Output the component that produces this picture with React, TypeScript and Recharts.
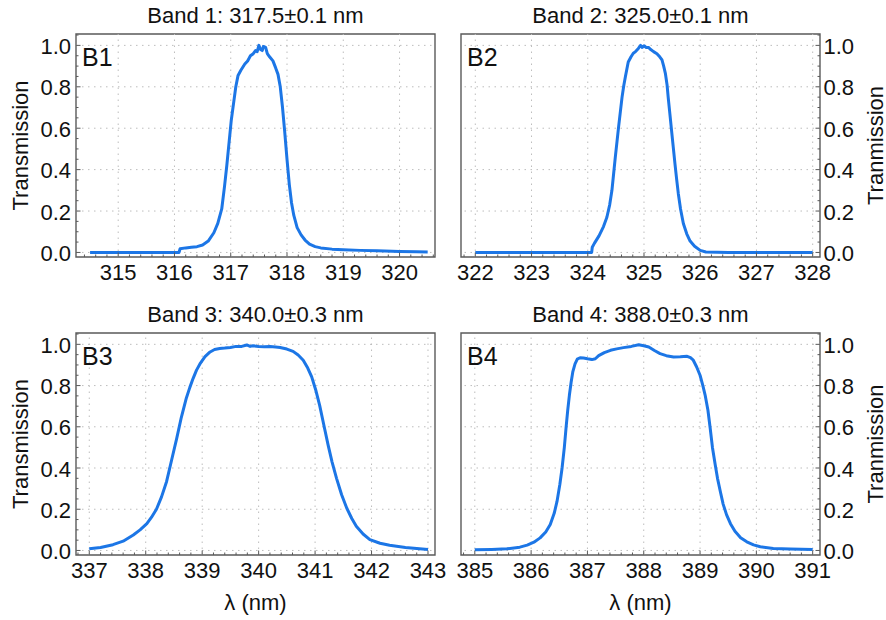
import React from 'react';
import { LineChart, Line, XAxis, YAxis, ReferenceLine, ReferenceArea } from 'recharts';

const FONT = '"Liberation Sans", Arial, Helvetica, sans-serif';
const LINE_COLOR = '#1c76e6';
const FRAME = '#5a5a5a';
const GRID = '#bdbdbd';
const TEXT = '#111111';

// ---------- data ----------
const band1Wl = [314.5, 315.0, 315.5, 316.0, 316.08, 316.1, 316.2, 316.3, 316.4, 316.5, 316.6, 316.7, 316.77, 316.84, 316.89, 316.93, 316.97, 317.01, 317.05, 317.09, 317.13, 317.18, 317.25, 317.3, 317.35, 317.4, 317.44, 317.47, 317.5, 317.53, 317.56, 317.58, 317.62, 317.65, 317.69, 317.75, 317.8, 317.84, 317.88, 317.92, 317.96, 318.0, 318.04, 318.08, 318.12, 318.18, 318.25, 318.32, 318.4, 318.5, 318.6, 318.8, 319.0, 319.3, 319.6, 320.0, 320.3, 320.5];
const band1T = [0, 0, 0, 0, 0, 0.018, 0.022, 0.025, 0.028, 0.036, 0.055, 0.095, 0.14, 0.21, 0.32, 0.42, 0.53, 0.64, 0.72, 0.8, 0.855, 0.88, 0.91, 0.925, 0.95, 0.96, 0.975, 0.97, 1.0, 0.98, 0.975, 0.995, 0.99, 0.96, 0.945, 0.925, 0.89, 0.86, 0.8, 0.7, 0.58, 0.45, 0.33, 0.24, 0.18, 0.12, 0.085, 0.06, 0.04, 0.028, 0.022, 0.016, 0.013, 0.01, 0.008, 0.005, 0.003, 0.002];

const band2Wl = [322, 323, 324, 324.07, 324.08, 324.12, 324.2, 324.28, 324.34, 324.39, 324.43, 324.46, 324.49, 324.52, 324.55, 324.58, 324.61, 324.64, 324.67, 324.72, 324.77, 324.81, 324.85, 324.9, 324.94, 324.97, 325.0, 325.04, 325.08, 325.12, 325.17, 325.23, 325.28, 325.32, 325.35, 325.38, 325.41, 325.43, 325.46, 325.49, 325.52, 325.55, 325.58, 325.61, 325.65, 325.7, 325.76, 325.82, 325.9, 326.0, 326.1, 326.5, 327, 328];
const band2T = [0, 0, 0, 0, 0.025, 0.045, 0.08, 0.125, 0.17, 0.23, 0.3, 0.38, 0.46, 0.535, 0.61, 0.68, 0.75, 0.805, 0.85, 0.92, 0.945, 0.962, 0.97, 0.985, 1.0, 0.99, 0.998, 0.99, 0.99, 0.98, 0.97, 0.96, 0.945, 0.93, 0.9, 0.865, 0.81, 0.75, 0.67, 0.59, 0.51, 0.43, 0.355, 0.285, 0.21, 0.14, 0.09, 0.055, 0.03, 0.01, 0.002, 0, 0, 0];

const band3Wl = [337.0, 337.2, 337.42, 337.6, 337.78, 337.9, 338.02, 338.1, 338.19, 338.28, 338.37, 338.46, 338.55, 338.63, 338.72, 338.78, 338.84, 338.9, 338.96, 339.05, 339.14, 339.22, 339.31, 339.4, 339.5, 339.6, 339.7, 339.79, 339.85, 339.9, 340.0, 340.1, 340.2, 340.3, 340.38, 340.5, 340.61, 340.7, 340.79, 340.87, 340.94, 341.01, 341.08, 341.15, 341.23, 341.3, 341.38, 341.47, 341.56, 341.65, 341.73, 341.85, 341.97, 342.15, 342.32, 342.6, 342.8, 343.0];
const band3T = [0.008, 0.014, 0.028, 0.045, 0.075, 0.1, 0.13, 0.16, 0.2, 0.26, 0.335, 0.44, 0.545, 0.645, 0.74, 0.79, 0.835, 0.875, 0.905, 0.94, 0.963, 0.975, 0.98, 0.982, 0.985, 0.99, 0.99, 0.997, 0.99, 0.993, 0.99, 0.988, 0.99, 0.987, 0.985, 0.977, 0.966, 0.948, 0.923, 0.885, 0.842, 0.78, 0.705, 0.615, 0.512, 0.43, 0.35, 0.27, 0.206, 0.155, 0.117, 0.08, 0.053, 0.035, 0.025, 0.014, 0.009, 0.005];

const band4Wl = [385.0, 385.3, 385.57, 385.8, 385.93, 386.05, 386.16, 386.26, 386.34, 386.41, 386.46, 386.51, 386.55, 386.59, 386.62, 386.65, 386.68, 386.71, 386.74, 386.78, 386.82, 386.87, 386.93, 387.0, 387.08, 387.14, 387.2, 387.3, 387.41, 387.52, 387.64, 387.78, 387.91, 388.0, 388.09, 388.19, 388.29, 388.4, 388.53, 388.65, 388.77, 388.83, 388.88, 388.94, 389.0, 389.05, 389.09, 389.14, 389.18, 389.22, 389.27, 389.31, 389.36, 389.41, 389.47, 389.54, 389.62, 389.72, 389.83, 389.95, 390.07, 390.3, 390.6, 391.0];
const band4T = [0.003, 0.005, 0.008, 0.016, 0.026, 0.04, 0.061, 0.09, 0.126, 0.18, 0.238, 0.32, 0.4, 0.5, 0.593, 0.68, 0.754, 0.815, 0.866, 0.905, 0.928, 0.935, 0.934, 0.93, 0.926, 0.93, 0.945, 0.96, 0.971, 0.978, 0.984, 0.99, 0.998, 0.993, 0.987, 0.97, 0.955, 0.945, 0.939, 0.94, 0.942, 0.935, 0.923, 0.89, 0.85, 0.8, 0.754, 0.68, 0.593, 0.5, 0.415, 0.35, 0.286, 0.225, 0.174, 0.13, 0.093, 0.062, 0.042, 0.027, 0.018, 0.01, 0.007, 0.005];

const band1XTicks = [315, 316, 317, 318, 319, 320];
const band2XTicks = [322, 323, 324, 325, 326, 327, 328];
const band3XTicks = [337, 338, 339, 340, 341, 342, 343];
const band4XTicks = [385, 386, 387, 388, 389, 390, 391];

const yMajorTicks = [0, 0.2, 0.4, 0.6, 0.8, 1.0];
const yTickLabels = ['0.0', '0.2', '0.4', '0.6', '0.8', '1.0'];

const titles = ['Band 1: 317.5±0.1 nm', 'Band 2: 325.0±0.1 nm', 'Band 3: 340.0±0.3 nm', 'Band 4: 388.0±0.3 nm'];
const tags = ['B1', 'B2', 'B3', 'B4'];
const yLabels = ['Transmission', 'Tranmission', 'Transmission', 'Tranmission'];
const xLabel = 'λ (nm)';

const yDomain: [number, number] = [-0.022, 1.055];

// ---------- helpers ----------
function steps(a: number, b: number, s: number): number[] {
  const out: number[] = [];
  const n = Math.round((b - a) / s);
  for (let i = 0; i <= n; i++) out.push(Math.round((a + i * s) * 1000) / 1000);
  return out;
}
const isIn = (arr: number[], v: number) => arr.some((m) => Math.abs(m - v) < 1e-6);

const makeXTick = (majors: number[]) => (props: any) => {
  const { x, y, payload } = props;
  const v = payload.value;
  const major = isIn(majors, v);
  return (
    <g>
      <line x1={x} x2={x} y1={y} y2={y - (major ? 4.5 : 2.5)} stroke={FRAME} strokeWidth={1} />
      {major && (
        <text x={x} y={y + 22.5} textAnchor="middle" fontSize={22} fontFamily={FONT} fill={TEXT}>
          {String(v)}
        </text>
      )}
    </g>
  );
};

const makeYTick = (side: 'left' | 'right') => (props: any) => {
  const { x, y, payload } = props;
  const v = payload.value;
  const idx = yMajorTicks.findIndex((m) => Math.abs(m - v) < 1e-6);
  const major = idx >= 0;
  const len = major ? 4.5 : 2.5;
  const dir = side === 'left' ? 1 : -1;
  return (
    <g>
      <line x1={x} x2={x + dir * len} y1={y} y2={y} stroke={FRAME} strokeWidth={1} />
      {major && (
        <text
          x={side === 'left' ? x - 5 : x + 3.5}
          y={y + 8.5}
          textAnchor={side === 'left' ? 'end' : 'start'}
          fontSize={22}
          fontFamily={FONT}
          fill={TEXT}
        >
          {yTickLabels[idx]}
        </text>
      )}
    </g>
  );
};

type PanelCfg = {
  box: { x: number; y: number; w: number; h: number };
  plot: { l: number; t: number; r: number; b: number };
  wl: number[];
  tr: number[];
  xDomain: [number, number];
  xTicks: number[];
  side: 'left' | 'right';
  idx: number;
  showX: boolean;
};

const panels: PanelCfg[] = [
  { box: { x: 0, y: 0, w: 886, h: 300 }, plot: { l: 76, t: 34, r: 435, b: 257 }, wl: band1Wl, tr: band1T, xDomain: [314.25, 320.63], xTicks: band1XTicks, side: 'left', idx: 0, showX: false },
  { box: { x: 0, y: 0, w: 886, h: 300 }, plot: { l: 461, t: 34, r: 820, b: 257 }, wl: band2Wl, tr: band2T, xDomain: [321.746, 328.13], xTicks: band2XTicks, side: 'right', idx: 1, showX: false },
  { box: { x: 0, y: 300, w: 886, h: 320 }, plot: { l: 76, t: 333, r: 435, b: 555 }, wl: band3Wl, tr: band3T, xDomain: [336.765, 343.124], xTicks: band3XTicks, side: 'left', idx: 2, showX: true },
  { box: { x: 0, y: 300, w: 886, h: 320 }, plot: { l: 461, t: 333, r: 820, b: 555 }, wl: band4Wl, tr: band4T, xDomain: [384.755, 391.13], xTicks: band4XTicks, side: 'right', idx: 3, showX: true },
];

const Y_AXIS_W = 12;
const X_AXIS_H = 12;

function Panel({ cfg }: { cfg: PanelCfg }) {
  const { box, plot, wl, tr, xDomain, xTicks, side } = cfg;
  const data = wl.map((x, i) => ({ x, y: tr[i] }));
  const xAll = steps(Math.ceil(xDomain[0] * 5) / 5, Math.floor(xDomain[1] * 5) / 5, 0.2);
  const yAll = steps(0, 1.05, 0.05);
  const margin = {
    left: plot.l - box.x - (side === 'left' ? Y_AXIS_W : 0),
    top: plot.t - box.y,
    right: box.x + box.w - plot.r - (side === 'right' ? Y_AXIS_W : 0),
    bottom: box.y + box.h - plot.b - X_AXIS_H,
  };
  return (
    <div style={{ position: 'absolute', left: box.x, top: box.y, width: box.w, height: box.h }}>
      <LineChart width={box.w} height={box.h} data={data} margin={margin}>
        <XAxis
          type="number"
          dataKey="x"
          domain={xDomain}
          ticks={xAll}
          interval={0}
          height={X_AXIS_H}
          tickSize={0}
          tickMargin={0}
          tickLine={false}
          axisLine={false}
          tick={makeXTick(xTicks)}
          allowDataOverflow
        />
        <YAxis
          type="number"
          orientation={side}
          domain={yDomain}
          ticks={yAll}
          interval={0}
          width={Y_AXIS_W}
          tickSize={0}
          tickMargin={0}
          tickLine={false}
          axisLine={false}
          tick={makeYTick(side)}
          allowDataOverflow
        />
        {xTicks.map((v) => (
          <ReferenceLine key={'gx' + v} x={v} stroke={GRID} strokeWidth={1} strokeDasharray="1.5 4.5" />
        ))}
        {yMajorTicks.map((v) => (
          <ReferenceLine key={'gy' + v} y={v} stroke={GRID} strokeWidth={1} strokeDasharray="1.5 4.5" />
        ))}
        <ReferenceArea
          x1={xDomain[0]}
          x2={xDomain[1]}
          y1={yDomain[0]}
          y2={yDomain[1]}
          fill="none"
          fillOpacity={0}
          stroke={FRAME}
          strokeWidth={1.4}
          ifOverflow="visible"
        />
        <Line
          type="linear"
          dataKey="y"
          stroke={LINE_COLOR}
          strokeWidth={3}
          dot={false}
          activeDot={false}
          isAnimationActive={false}
          strokeLinejoin="round"
        />
      </LineChart>
    </div>
  );
}

function Overlay() {
  return (
    <svg width={886} height={620} style={{ position: 'absolute', left: 0, top: 0, pointerEvents: 'none' }}>
      {panels.map((p) => {
        const cx = (p.plot.l + p.plot.r) / 2;
        const cy = (p.plot.t + p.plot.b) / 2;
        const labelX = p.side === 'left' ? 28 : 882.5;
        return (
          <g key={'ov' + p.idx} fontFamily={FONT} fill={TEXT}>
            <text x={cx} y={p.plot.t - 11} textAnchor="middle" fontSize={22}>
              {titles[p.idx]}
            </text>
            <text x={p.plot.l + 6} y={p.plot.t + 31.5} fontSize={25}>
              {tags[p.idx]}
            </text>
            <text
              x={labelX}
              y={cy}
              textAnchor="middle"
              fontSize={22}
              transform={`rotate(-90 ${labelX} ${cy})`}
            >
              {yLabels[p.idx]}
            </text>
            {p.showX && (
              <text x={cx} y={610} textAnchor="middle" fontSize={22}>
                {xLabel}
              </text>
            )}
          </g>
        );
      })}
    </svg>
  );
}

export default function App() {
  return (
    <div style={{ position: 'absolute', left: 0, top: 0, width: 886, height: 620, background: '#ffffff', overflow: 'hidden' }}>
      {panels.map((p) => (
        <Panel key={p.idx} cfg={p} />
      ))}
      <Overlay />
    </div>
  );
}
